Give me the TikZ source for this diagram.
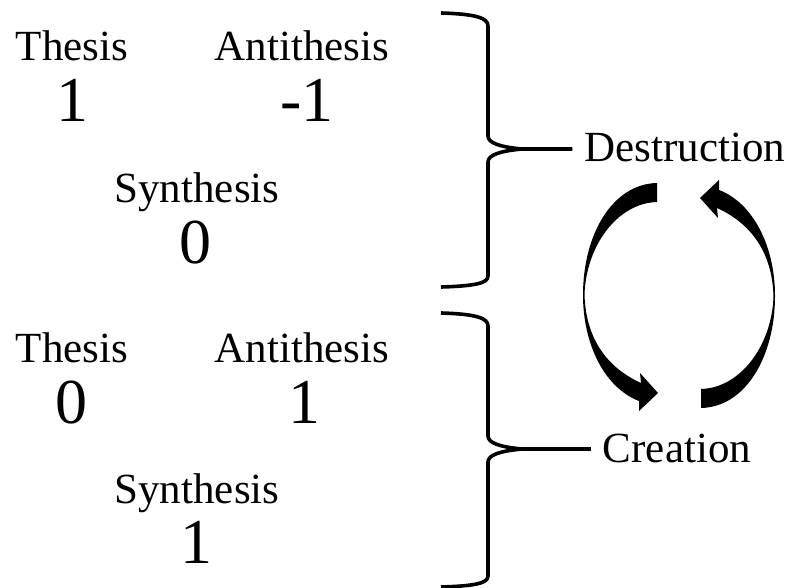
\documentclass[tikz,border=0pt]{standalone}
\usepackage{fontspec}
\setmainfont{Liberation Serif}
\tikzset{
  lbl/.style={anchor=base, inner sep=0pt, font=\fontsize{43}{50}\selectfont},
  num/.style={anchor=base, inner sep=0pt, font=\fontsize{64}{70}\selectfont},
  side/.style={anchor=base, inner sep=0pt, font=\fontsize{43}{50}\selectfont},
  brace/.style={line width=3.6pt, line join=round},
  cyclearrow/.style={fill=black, draw=none}
}
% one curved arrow of the cycle (left half); the right half is the same shape turned by 180 degrees
\newcommand{\cyclehalf}[1]{%
  \fill[cyclearrow,#1] (657,183) .. controls (612,184) and (583,235) .. (583,295)
    .. controls (583,345) and (605,388) .. (639,401) -- (639,411) -- (658,393)
    -- (640,373) -- (641,383) .. controls (608,368) and (586,340) .. (584.5,295)
    .. controls (586,245) and (618,203) .. (657,202) -- cycle;}
\begin{document}
\begin{tikzpicture}[x=1pt, y=-1pt]
  \useasboundingbox (0,0) rectangle (795,588);

  % upper triad
  \node[lbl] (thA) at (72,61) {Thesis};
  \node[lbl] (anA) at (302,61) {Antithesis};
  \node[num] (thvA) at (72,122) {1};
  \node[num] (anvA) at (307,122) {-1};
  \node[lbl] (syA) at (197,203) {Synthesis};
  \node[num] (syvA) at (195,263) {0};

  % lower triad
  \node[lbl] (thB) at (72,362) {Thesis};
  \node[lbl] (anB) at (302,362) {Antithesis};
  \node[num] (thvB) at (71,423) {0};
  \node[num] (anvB) at (304,423) {1};
  \node[lbl] (syB) at (197,503) {Synthesis};
  \node[num] (syvB) at (196,563) {1};

  % outcomes
  \node[side] (dest) at (685,162) {Destruction};
  \node[side] (crea) at (677,462) {Creation};

  % upper brace
  \draw[brace] (441,13) .. controls (476,14) and (488,18) .. (488,26) -- (488,136)
    .. controls (488,143) and (500,147) .. (522,149) -- ([xshift=-12pt]dest.west |- 0,149);
  \draw[brace] (522,149) .. controls (500,151) and (488,155) .. (488,162) -- (488,276)
    .. controls (488,283) and (476,286) .. (441,287);

  % lower brace
  \draw[brace] (441,313) .. controls (476,314) and (488,318) .. (488,326) -- (488,436)
    .. controls (488,443) and (500,447) .. (522,449) -- ([xshift=-12pt]crea.west |- 0,449);
  \draw[brace] (522,449) .. controls (500,451) and (488,455) .. (488,462) -- (488,576)
    .. controls (488,583) and (476,586) .. (441,587);

  % cycle arrows
  \cyclehalf{}
  \cyclehalf{rotate around={180:(679,295.5)}}
\end{tikzpicture}
\end{document}
